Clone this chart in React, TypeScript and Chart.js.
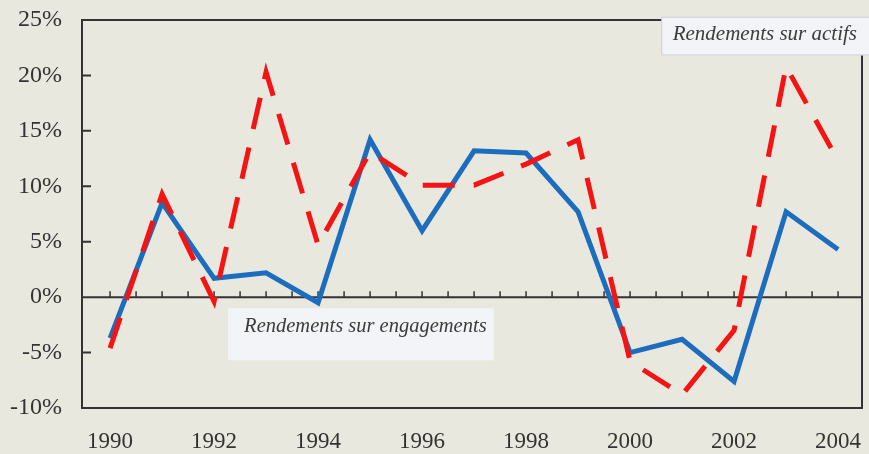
import React, { useEffect, useRef } from "react";
import { Chart, registerables } from "chart.js";

Chart.register(...registerables);

const years = [1990, 1991, 1992, 1993, 1994, 1995, 1996, 1997, 1998, 1999, 2000, 2001, 2002, 2003, 2004];
const rendementsActifs = [-4.6, 9.3, -0.4, 20.3, 4.7, 13.1, 10.1, 10.1, 12.0, 14.2, -5.8, -8.8, -3.0, 20.8, 12.3];
const rendementsEngagements = [-3.7, 8.5, 1.7, 2.2, -0.5, 14.2, 6.0, 13.2, 13.0, 7.7, -5.0, -3.8, -7.6, 7.7, 4.3];
const xTickValues = [1990, 1992, 1994, 1996, 1998, 2000, 2002, 2004];
const yTickValues = [-10, -5, 0, 5, 10, 15, 20, 25];
const labelActifs = "Rendements sur actifs";
const labelEngagements = "Rendements sur engagements";

const BG = "#e9e8df";
const INK = "#333333";
const SERIF = "'Liberation Serif', 'Times New Roman', serif";

const framePlugin = {
  id: "frame",
  beforeDraw(chart: any) {
    const ctx = chart.ctx;
    ctx.save();
    ctx.fillStyle = BG;
    ctx.fillRect(0, 0, chart.width, chart.height);
    ctx.restore();
  },
  beforeDatasetsDraw(chart: any) {
    const { ctx, chartArea, scales } = chart;
    const xs = scales.x;
    const ys = scales.y;
    ctx.save();
    ctx.strokeStyle = INK;
    ctx.lineWidth = 2;
    ctx.strokeRect(chartArea.left, chartArea.top, chartArea.right - chartArea.left, chartArea.bottom - chartArea.top);
    ctx.beginPath();
    yTickValues.forEach((v) => {
      if (v === -10 || v === 25 || v === 0) return;
      const y = ys.getPixelForValue(v);
      ctx.moveTo(chartArea.left, y);
      ctx.lineTo(chartArea.left + 9, y);
    });
    ctx.stroke();
    const y0 = ys.getPixelForValue(0);
    ctx.beginPath();
    ctx.moveTo(chartArea.left, y0);
    ctx.lineTo(chartArea.right, y0);
    ctx.stroke();
    ctx.lineWidth = 1.5;
    ctx.beginPath();
    for (let i = 0; i < years.length * 2 - 1; i++) {
      const v = years[0] + i * 0.5;
      const x = xs.getPixelForValue(v);
      ctx.moveTo(x, y0);
      ctx.lineTo(x, y0 - 6);
    }
    ctx.stroke();
    ctx.restore();
  },
  afterDatasetsDraw(chart: any) {
    const { ctx, scales } = chart;
    const xs = scales.x;
    const ys = scales.y;
    ctx.save();
    // "Rendements sur actifs" box
    const ax0 = xs.getPixelForValue(2000.6);
    const ax1 = chart.width + 2;
    const ay0 = ys.getPixelForValue(25.3);
    const ay1 = ys.getPixelForValue(21.8);
    ctx.fillStyle = "#f3f4f8";
    ctx.fillRect(ax0, ay0, ax1 - ax0, ay1 - ay0);
    ctx.strokeStyle = "rgba(180,180,190,0.6)";
    ctx.lineWidth = 1;
    ctx.strokeRect(ax0 + 0.5, ay0 + 0.5, ax1 - ax0 - 1, ay1 - ay0 - 1);
    ctx.fillStyle = "#3c3c3c";
    ctx.font = `italic 21px ${SERIF}`;
    ctx.textBaseline = "middle";
    ctx.textAlign = "right";
    ctx.fillText(labelActifs, chart.width - 12, (ay0 + ay1) / 2 - 2);
    // "Rendements sur engagements" box
    const ex0 = xs.getPixelForValue(1992.27);
    const ex1 = xs.getPixelForValue(1997.38);
    const ey0 = ys.getPixelForValue(-1.0);
    const ey1 = ys.getPixelForValue(-5.7);
    ctx.fillStyle = "#f3f4f8";
    ctx.fillRect(ex0, ey0, ex1 - ex0, ey1 - ey0);
    ctx.fillStyle = "#3c3c3c";
    ctx.font = `italic 20.5px ${SERIF}`;
    ctx.textAlign = "left";
    ctx.fillText(labelEngagements, ex0 + 16, ey0 + 18);
    ctx.restore();
  },
};

export default function App() {
  const ref = useRef<HTMLCanvasElement | null>(null);
  useEffect(() => {
    document.body.style.margin = "0";
    document.body.style.background = BG;
    const canvas = ref.current;
    if (!canvas) return;
    const chart = new Chart(canvas, {
      type: "line",
      data: {
        datasets: [
          {
            label: labelActifs,
            data: years.map((y, i) => ({ x: y, y: rendementsActifs[i] })),
            borderColor: "#f41414",
            borderWidth: 5,
            borderDash: [32, 19],
            borderCapStyle: "butt",
            borderJoinStyle: "miter",
            pointRadius: 0,
            tension: 0,
            fill: false,
          },
          {
            label: labelEngagements,
            data: years.map((y, i) => ({ x: y, y: rendementsEngagements[i] })),
            borderColor: "#1c6dbd",
            borderWidth: 5,
            borderJoinStyle: "miter",
            pointRadius: 0,
            tension: 0,
            fill: false,
          },
        ],
      },
      options: {
        animation: false,
        responsive: false,
        devicePixelRatio: 1,
        layout: { padding: { left: 0, right: 7, top: 20, bottom: 0 } },
        plugins: { legend: { display: false }, tooltip: { enabled: false } },
        scales: {
          x: {
            type: "linear",
            min: 1989.46,
            max: 2004.46,
            grid: { display: false, drawTicks: false },
            border: { display: false },
            afterBuildTicks: (scale: any) => {
              scale.ticks = xTickValues.map((v) => ({ value: v }));
            },
            afterFit: (scale: any) => {
              scale.height = 46;
              scale.paddingLeft = 0;
              scale.paddingRight = 0;
            },
            ticks: {
              color: INK,
              padding: 20,
              maxRotation: 0,
              autoSkip: false,
              font: { family: SERIF, size: 23 },
              callback: (v: any) => String(v),
            },
          },
          y: {
            min: -10,
            max: 25,
            grid: { display: false, drawTicks: false },
            border: { display: false },
            afterBuildTicks: (scale: any) => {
              scale.ticks = yTickValues.map((v) => ({ value: v }));
            },
            afterFit: (scale: any) => {
              scale.width = 82;
              scale.paddingTop = 0;
              scale.paddingBottom = 0;
            },
            ticks: {
              color: INK,
              padding: 20,
              font: { family: SERIF, size: 24 },
              callback: (v: any) => `${v}%`,
            },
          },
        },
      },
      plugins: [framePlugin],
    } as any);
    return () => chart.destroy();
  }, []);
  return (
    <div style={{ width: 869, height: 454, background: BG }}>
      <canvas ref={ref} width={869} height={454} style={{ display: "block" }} />
    </div>
  );
}
